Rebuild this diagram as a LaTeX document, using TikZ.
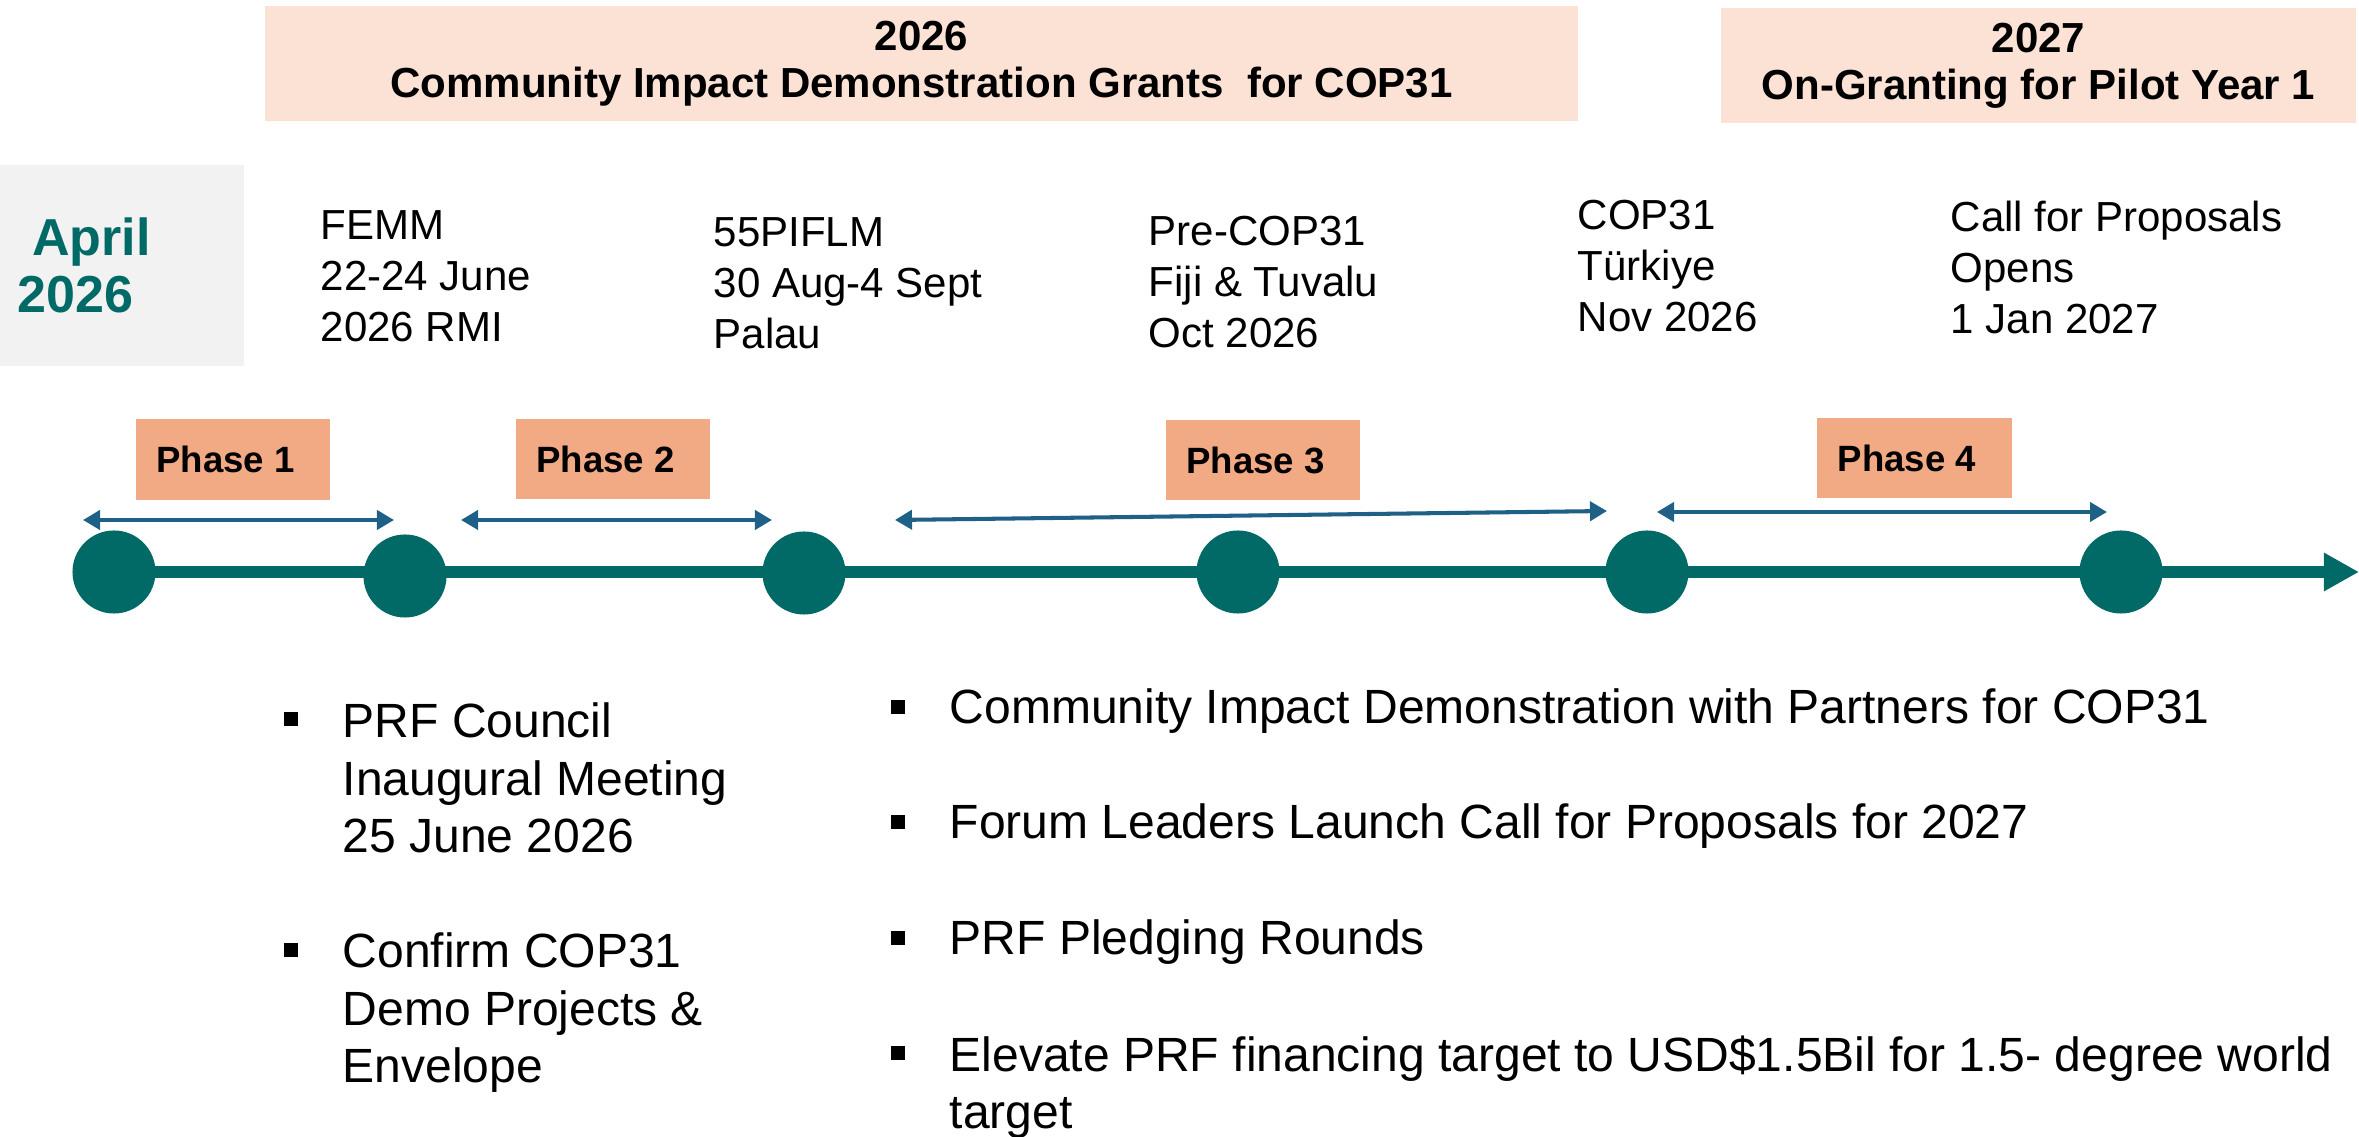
\documentclass[tikz,border=0pt]{standalone}
\usepackage{fontspec}
\setmainfont{Liberation Sans}
\usetikzlibrary{arrows.meta,backgrounds}
\definecolor{tealc}{HTML}{026A66}
\definecolor{bluec}{HTML}{1F6087}
\definecolor{phasec}{HTML}{F2AA84}
\definecolor{bannerc}{HTML}{FBE2D5}
\definecolor{greyc}{HTML}{F2F2F2}
\begin{document}
\begin{tikzpicture}[x=0.01cm,y=-0.01cm,
  evtext/.style={anchor=north west, align=left, inner sep=0pt, font=\fontsize{11.95pt}{14.5pt}\selectfont},
  banner/.style={fill=bannerc, draw=none, align=center, inner sep=0pt, minimum height=1.15cm, font=\bfseries\fontsize{11.95pt}{13.4pt}\selectfont},
  phasebox/.style={fill=phasec, draw=none, inner sep=0pt, minimum width=1.94cm, minimum height=0.8cm, font=\bfseries\fontsize{10.4pt}{12pt}\selectfont},
  milestone/.style={circle, fill=tealc, draw=none, minimum size=0.83cm, inner sep=0pt},
  span/.style={draw=bluec, line width=1.15pt, {Triangle[length=0.17cm,width=0.19cm]}-{Triangle[length=0.17cm,width=0.19cm]}},
  timeline/.style={draw=tealc, line width=0.12cm, -{Triangle[length=0.35cm,width=0.36cm]}},
  sq/.style={fill=black, draw=none, minimum size=0.14cm, inner sep=0pt},
  btext/.style={inner sep=0pt, font=\fontsize{13.66pt}{16.4pt}\selectfont},
  aprtext/.style={anchor=north west, align=left, inner sep=0pt, text=tealc, font=\bfseries\fontsize{14.8pt}{16.2pt}\selectfont},
]
\useasboundingbox (0,0) rectangle (2359,1137);

% banners
\node[banner, minimum width=13.13cm] (ban1) at (921.5,63.5) {2026\\Community Impact Demonstration Grants\ \ for COP31};
\node[banner, minimum width=6.35cm] (ban2) at (2038.5,65.5) {2027\\On-Granting for Pilot Year 1};

% April box
\node[fill=greyc, draw=none, inner sep=0pt, minimum width=2.44cm, minimum height=2.01cm] (aprbox) at (122,265.5) {};
\node[aprtext] (apr) at (17,217) {\hspace*{0.145cm}April\\2026};

% event texts
\node[evtext] (ev1) at (320,210) {FEMM\\22-24 June\\2026 RMI};
\node[evtext] (ev2) at (713,217) {55PIFLM\\30 Aug-4 Sept\\Palau};
\node[evtext] (ev3) at (1148,215) {Pre-COP31\\Fiji \& Tuvalu\\Oct 2026};
\node[evtext] (ev4) at (1577,199) {COP31\\Türkiye\\Nov 2026};
\node[evtext] (ev5) at (1950,200) {Call for Proposals\\Opens\\1 Jan 2027};

% phase boxes
\node[phasebox] (ph1) at (233,459.5) {Phase 1\hspace*{0.15cm}};
\node[phasebox] (ph2) at (613,459) {Phase 2\hspace*{0.15cm}};
\node[phasebox] (ph3) at (1263,460) {Phase 3\hspace*{0.15cm}};
\node[phasebox] (ph4) at (1914.5,458) {Phase 4\hspace*{0.15cm}};

% phase spans
\coordinate (s1a) at (83,520);  \coordinate (s1b) at (394,520);
\coordinate (s2a) at (461,520); \coordinate (s2b) at (772,520);
\coordinate (s3a) at (895,520); \coordinate (s3b) at (1607,511);
\coordinate (s4a) at (1657,512); \coordinate (s4b) at (2107,512);
\draw[span] (s1a) -- (s1b);
\draw[span] (s2a) -- (s2b);
\draw[span] (s3a) -- (s3b);
\draw[span] (s4a) -- (s4b);

% milestones
\node[milestone] (c1) at (114,572) {};
\node[milestone] (c2) at (405,576) {};
\node[milestone] (c3) at (804,573) {};
\node[milestone] (c4) at (1238,572) {};
\node[milestone] (c5) at (1647,572) {};
\node[milestone] (c6) at (2121,572) {};
\coordinate (tip) at (2359,572);
\begin{pgfonlayer}{background}
\draw[timeline] (c1.center) -- (tip);
\end{pgfonlayer}

% left bullet list
\node[sq] (lb1) at (291,719) {};
\node[btext, anchor=north west, align=left] (lt1) at (342,702) {PRF Council\\Inaugural Meeting\\25 June 2026};
\node[sq] (lb2) at (291,950) {};
\node[btext, anchor=north west, align=left] (lt2) at (342,932) {Confirm COP31\\Demo Projects \&\\Envelope};

% right bullet list
\node[sq] (rb1) at (898,707) {};
\node[btext, anchor=base west] (rt1) at (949,724) {Community Impact Demonstration with Partners for COP31};
\node[sq] (rb2) at (898,822) {};
\node[btext, anchor=base west] (rt2) at (949,839) {Forum Leaders Launch Call for Proposals for 2027};
\node[sq] (rb3) at (898,938) {};
\node[btext, anchor=base west] (rt3) at (949,955) {PRF Pledging Rounds};
\node[sq] (rb4) at (898,1053) {};
\node[btext, anchor=north west, align=left] (rt4) at (949,1035) {Elevate PRF financing target to USD\$1.5Bil for 1.5- degree world\\target};
\end{tikzpicture}
\end{document}
